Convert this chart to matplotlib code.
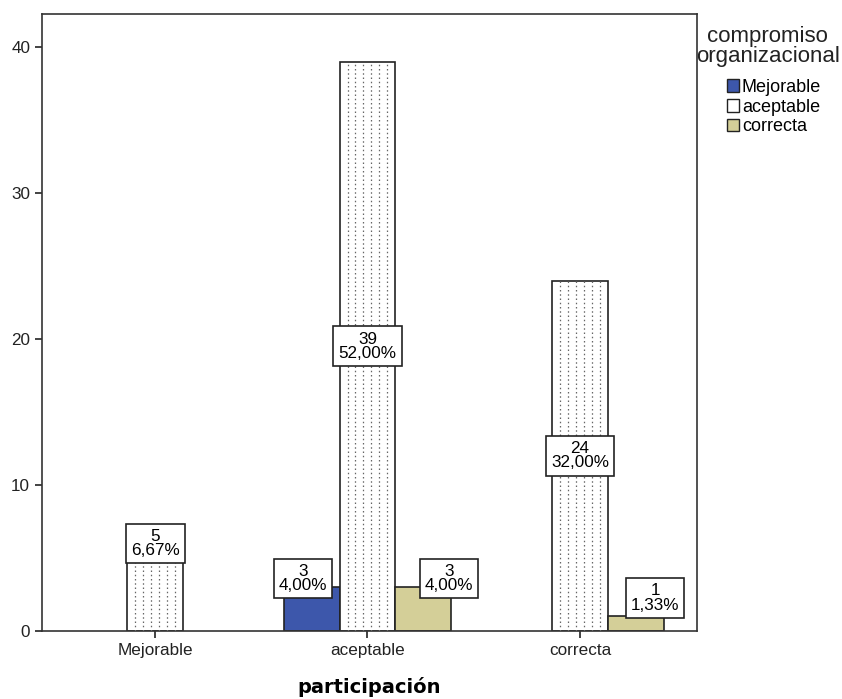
import numpy as np
import matplotlib.pyplot as plt
from matplotlib.patches import Patch

plt.rcParams['font.family'] = ['Liberation Sans', 'DejaVu Sans']

categories = ['Mejorable', 'aceptable', 'correcta']
series = ['Mejorable', 'aceptable', 'correcta']
counts = {
    'Mejorable': [0, 3, 0],
    'aceptable': [5, 39, 24],
    'correcta': [0, 3, 1],
}
percents = {
    'Mejorable': ['', '4,00%', ''],
    'aceptable': ['6,67%', '52,00%', '32,00%'],
    'correcta': ['', '4,00%', '1,33%'],
}
colors = {'Mejorable': '#3d57ab', 'aceptable': 'white', 'correcta': '#d4cf98'}
# small horizontal nudges SPSS uses to keep labels apart
nudge = {'Mejorable': -0.04, 'aceptable': 0.0, 'correcta': 0.12}

fig = plt.figure(figsize=(8.42, 6.99), dpi=100)
ax = fig.add_axes([0.0499, 0.0973, 0.7779, 0.8827])

x = np.arange(len(categories))
w = 0.2635
offsets = [-w, 0, w]

for s, off in zip(series, offsets):
    for xi, v in zip(x, counts[s]):
        if v == 0:
            continue
        ax.bar(xi + off, v, width=w, color=colors[s], edgecolor='#222222', linewidth=1.2, zorder=2)
        if s == 'aceptable':
            for k in range(1, 7):
                xl = xi + off - w / 2 + k * w / 7
                ax.vlines(xl, 0, v, colors='#666666', linestyles=(0, (1.2, 2.2)), linewidth=0.9, zorder=3)

# value labels
for s, off in zip(series, offsets):
    for xi, v, p in zip(x, counts[s], percents[s]):
        if v == 0:
            continue
        if v > 10:
            tx, ty = xi + off, v / 2
        else:
            tx, ty = xi + off + nudge[s], max(v * 1.2, 2.26)
            if v == 1:
                tx = xi + off + 0.09
        ax.text(tx, ty, f'{v}\n{p}', ha='center', va='center', fontsize=12.3,
                linespacing=0.95, zorder=5,
                bbox=dict(boxstyle='square,pad=0.3', fc='white', ec='#222222', lw=1.2))

ax.set_xlim(-0.532, 2.551)
ax.set_ylim(0, 42.26)
ax.set_yticks([0, 10, 20, 30, 40])
ax.set_xticks(x)
ax.set_xticklabels(categories)
ax.tick_params(axis='both', labelsize=12.3, length=5, width=1.2, colors='#222222')
for sp in ax.spines.values():
    sp.set_linewidth(1.2)
    sp.set_color('#333333')
ax.set_xlabel('participación', fontsize=14, fontweight='bold', labelpad=14,
              family='DejaVu Sans')

fig.text(0.912, 0.933, 'compromiso\norganizacional', ha='center', va='center',
         fontsize=16, linespacing=0.95, color='#222222')
handles = [Patch(facecolor=colors['Mejorable'], edgecolor='#222222', linewidth=1.0),
           Patch(facecolor='white', edgecolor='#222222', hatch=':', linewidth=1.0),
           Patch(facecolor=colors['correcta'], edgecolor='#222222', linewidth=1.0)]
fig.legend(handles, series, loc='upper left', bbox_to_anchor=(0.863, 0.887),
           frameon=False, fontsize=13, handlelength=0.7, handleheight=0.7,
           handletextpad=0.15, labelspacing=0.15, borderpad=0, borderaxespad=0)

fig.savefig('out.png', dpi=100)
